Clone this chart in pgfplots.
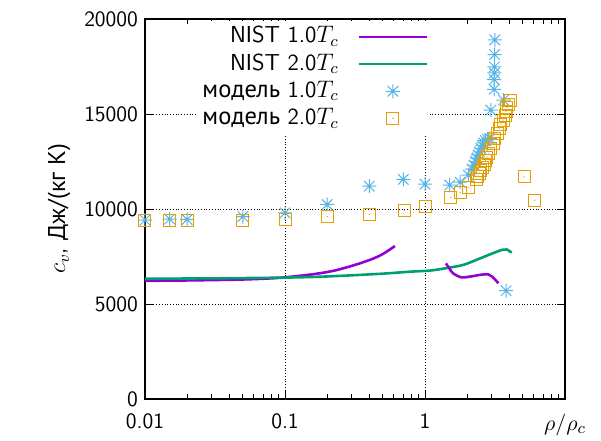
\documentclass[border=0pt]{standalone}
\usepackage{fontspec}
\usepackage{pgfplots}
\pgfplotsset{compat=1.18}
\renewcommand\familydefault{\sfdefault}
\newfontfamily\cyr{PT Sans}[Scale=1.06]
\definecolor{gpviolet}{HTML}{9400D3}
\definecolor{gpgreen}{HTML}{009E73}
\definecolor{gpblue}{HTML}{56B4E9}
\definecolor{gporange}{HTML}{E69F00}
\pgfdeclareplotmark{gpstar}{%
  \pgfpathmoveto{\pgfqpoint{-\pgfplotmarksize}{0pt}}\pgfpathlineto{\pgfqpoint{\pgfplotmarksize}{0pt}}%
  \pgfpathmoveto{\pgfqpoint{0pt}{-\pgfplotmarksize}}\pgfpathlineto{\pgfqpoint{0pt}{\pgfplotmarksize}}%
  \pgfpathmoveto{\pgfqpoint{-0.75\pgfplotmarksize}{-0.75\pgfplotmarksize}}\pgfpathlineto{\pgfqpoint{0.75\pgfplotmarksize}{0.75\pgfplotmarksize}}%
  \pgfpathmoveto{\pgfqpoint{-0.75\pgfplotmarksize}{0.75\pgfplotmarksize}}\pgfpathlineto{\pgfqpoint{0.75\pgfplotmarksize}{-0.75\pgfplotmarksize}}%
  \pgfusepathqstroke}
\pgfdeclareplotmark{gpbox}{%
  \pgfpathrectangle{\pgfqpoint{-\pgfplotmarksize}{-\pgfplotmarksize}}{\pgfqpoint{2\pgfplotmarksize}{2\pgfplotmarksize}}%
  \pgfusepathqstroke
  \pgfpathcircle{\pgfpointorigin}{0.35pt}\pgfusepathqfill}
\pgfplotsset{
  linelegend/.style={legend image code/.code={\draw[##1, line width=1.3pt] (0bp,0bp) -- (34bp,0bp);}},
  marklegend/.style={legend image code/.code={\draw[mark repeat=2,mark phase=2,##1] plot coordinates {(0bp,0bp) (17bp,0bp) (34bp,0bp)};}},
}
\begin{document}
\begin{tikzpicture}[font=\fontsize{11}{13}\selectfont]
\useasboundingbox (-72.5bp,-21bp) rectangle (228bp,199.5bp);
\begin{axis}[
  at={(0,0)}, anchor=south west,
  scale only axis, width=210bp, height=190bp,
  xmode=log, xmin=0.01, xmax=10, ymin=0, ymax=20000,
  xtick={0.01,0.1,1,10}, xticklabels={0.01,0.1,1,{$\rho/\rho_c$}},
  ytick={0,5000,10000,15000,20000},
  scaled y ticks=false,
  /pgf/number format/assume math mode=true,
  yticklabel={\pgfmathprintnumber[fixed,precision=0,set thousands separator={}]{\tick}},
  tick align=inside, major tick length=4bp, minor tick length=2.5bp,
  grid=major, major grid style={black, densely dotted, line width=0.5pt},
  axis line style={black, line width=0.6pt},
  tick style={black, line width=0.5pt},
  xticklabel style={yshift=-4bp},
  ylabel={$c_v$, {\cyr Дж/(кг К)}},
  ylabel style={font=\fontsize{11.5}{13}\selectfont},
  legend cell align=right, legend plot pos=right,
  legend style={at={(0.68,0.995)}, anchor=north east, draw=none, fill=white,
    inner sep=1bp, row sep=0pt, column sep=7.5bp, font=\fontsize{11.6}{14}\selectfont,
    nodes={text height=8.5bp, text depth=2.5bp, inner ysep=1.3bp}},
]
\addplot[gpviolet, line width=1.3pt, smooth, linelegend] coordinates {
(0.01,6220) (0.02,6240) (0.05,6290) (0.092,6380) (0.16,6570) (0.22,6740) (0.276,6930)
(0.343,7140) (0.43,7400) (0.5,7630) (0.61,8050)};
\addlegendentry{NIST 1.0$T_c$}
\addplot[gpgreen, line width=1.3pt, smooth, linelegend] coordinates {
(0.01,6330) (0.03,6350) (0.1,6390) (0.2,6450) (0.48,6590) (0.78,6700) (1.09,6760) (1.4,6880)
(1.88,7060) (2.47,7400) (3.25,7750) (3.6,7860) (3.84,7870) (4.16,7700)};
\addlegendentry{NIST 2.0$T_c$}
\addplot[gpviolet, line width=1.3pt, smooth, forget plot] coordinates {
(1.41,7140) (1.5,6850) (1.59,6610) (1.83,6400) (2.21,6470) (2.5,6540) (2.83,6560)
(3.0,6450) (3.16,6300) (3.34,6090)};
\addplot[gpblue, only marks, mark=gpstar, mark size=3.5bp, line width=0.5pt, marklegend] coordinates {
(0.01,9420) (0.015,9470) (0.02,9450) (0.05,9600) (0.1,9800) (0.2,10240) (0.4,11200)
(0.7,11560) (1.0,11310) (1.5,11260) (1.78,11410) (2.04,11780) (2.16,12100) (2.24,12310)
(2.30,12500) (2.35,12680) (2.40,12850) (2.45,13000) (2.51,13200) (2.57,13350) (2.63,13480)
(2.70,13600) (2.80,13680) (2.91,13710) (2.95,15200) (3.63,15730) (3.12,16300) (3.12,16810)
(3.13,17160) (3.13,17480) (3.14,18130) (3.15,18900) (3.79,5700)};
\addlegendentry{{\cyr модель} 1.0$T_c$}
\addplot[gporange, only marks, mark=gpbox, mark size=3bp, line width=0.5pt, mark options={draw=gporange, fill=gporange}, marklegend] coordinates {
(0.01,9380) (0.015,9400) (0.02,9400) (0.05,9400) (0.1,9450) (0.2,9590) (0.4,9710)
(0.71,9940) (1.0,10140) (1.53,10590) (1.78,10870) (2.04,11140) (2.34,11570) (2.39,11730)
(2.45,11890) (2.51,12050) (2.57,12200) (2.64,12360) (2.70,12570) (2.77,12730) (2.86,12940)
(2.96,13200) (3.06,13470) (3.16,13730) (3.27,13990) (3.38,14250) (3.49,14470) (3.61,14680)
(3.73,14940) (3.79,15150) (3.85,15360) (3.92,15520) (4.05,15730) (5.1,11690) (6.1,10470)};
\addlegendentry{{\cyr модель} 2.0$T_c$}
\end{axis}
\end{tikzpicture}
\end{document}
